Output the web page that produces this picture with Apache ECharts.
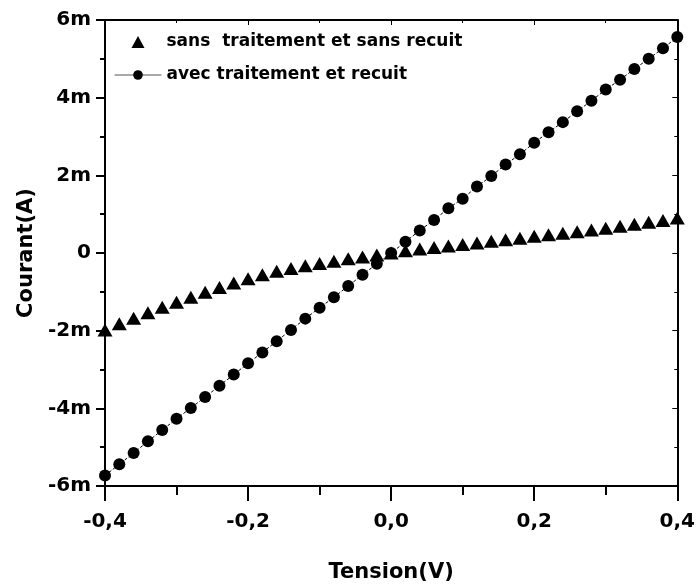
<!DOCTYPE html>
<html>
<head>
<meta charset="utf-8">
<script src="https://cdn.jsdelivr.net/npm/echarts@6/dist/echarts.min.js"></script>
<style>
  html, body { margin: 0; padding: 0; background: #fff; }
  #chart { width: 698px; height: 588px; }
</style>
</head>
<body>
<div id="chart"></div>
<script>
// Applied voltage (V)
const tension = [
  -0.40, -0.38, -0.36, -0.34, -0.32, -0.30, -0.28, -0.26, -0.24, -0.22,
  -0.20, -0.18, -0.16, -0.14, -0.12, -0.10, -0.08, -0.06, -0.04, -0.02,
   0.00,  0.02,  0.04,  0.06,  0.08,  0.10,  0.12,  0.14,  0.16,  0.18,
   0.20,  0.22,  0.24,  0.26,  0.28,  0.30,  0.32,  0.34,  0.36,  0.38,
   0.40
];

// Current (mA) without treatment and without annealing
const courantSans = [
  -1.98, -1.82, -1.68, -1.54, -1.40, -1.27, -1.14, -1.01, -0.89, -0.77,
  -0.66, -0.56, -0.47, -0.40, -0.33, -0.27, -0.21, -0.15, -0.10, -0.05,
   0.00,  0.06,  0.10,  0.14,  0.18,  0.22,  0.26,  0.30,  0.34,  0.38,
   0.43,  0.47,  0.51,  0.55,  0.59,  0.64,  0.69,  0.74,  0.79,  0.84,
   0.90
];

// Current (mA) with treatment and annealing
const courantAvec = [
  -5.73, -5.44, -5.15, -4.85, -4.56, -4.27, -3.99, -3.71, -3.42, -3.13,
  -2.84, -2.56, -2.27, -1.98, -1.69, -1.41, -1.14, -0.85, -0.56, -0.28,
   0.00,  0.29,  0.58,  0.85,  1.15,  1.40,  1.71,  1.98,  2.28,  2.54,
   2.84,  3.11,  3.37,  3.65,  3.92,  4.21,  4.46,  4.74,  5.00,  5.27,
   5.56
];

const serieNames = ['sans  traitement et sans recuit', 'avec traitement et recuit'];
const xTicks = [-0.4, -0.2, 0.0, 0.2, 0.4];
const yTicks = [-6, -4, -2, 0, 2, 4, 6];

const pairs = (ys) => tension.map((v, i) => [v, ys[i]]);

const labelFont = {
  fontFamily: 'DejaVu Sans',
  fontWeight: 'bold',
  color: '#000'
};

// Equilateral-ish triangle as a path so the legend keeps its proportions
const triangleIcon = 'path://M6.5,0L13,12L0,12Z';

const chart = echarts.init(document.getElementById('chart'), null, { renderer: 'canvas' });

const frameAxis = {
  axisLine: { show: true, onZero: false, lineStyle: { color: '#000', width: 2 } },
  splitLine: { show: false }
};

chart.setOption({
  animation: false,
  backgroundColor: '#fff',
  grid: { left: 105, right: 18, top: 20, bottom: 100, containLabel: false },
  legend: {
    orient: 'vertical',
    left: 114,
    top: 33,
    padding: 0,
    itemWidth: 47,
    itemHeight: 12,
    itemGap: 15,
    symbolKeepAspect: true,
    textStyle: Object.assign({ fontSize: 17, lineHeight: 18 }, labelFont),
    data: [
      { name: serieNames[0], icon: triangleIcon, itemStyle: { color: '#000', opacity: 1 } },
      { name: serieNames[1], lineStyle: { type: 'solid', color: '#555', width: 1 } }
    ]
  },
  xAxis: [
    Object.assign({}, frameAxis, {
      type: 'value',
      min: xTicks[0],
      max: xTicks[xTicks.length - 1],
      interval: 0.2,
      position: 'bottom',
      name: 'Tension(V)',
      nameLocation: 'middle',
      nameGap: 76,
      nameTextStyle: Object.assign({ fontSize: 21 }, labelFont),
      axisTick: { show: true, inside: false, length: 15, lineStyle: { color: '#000', width: 2 } },
      minorTick: { show: true, splitNumber: 2, length: 9, lineStyle: { color: '#000', width: 2 } },
      axisLabel: Object.assign({
        fontSize: 20,
        margin: 26,
        formatter: (v) => v.toFixed(1).replace('.', ',')
      }, labelFont)
    }),
    Object.assign({}, frameAxis, {
      type: 'value',
      min: xTicks[0],
      max: xTicks[xTicks.length - 1],
      interval: 0.2,
      position: 'top',
      axisTick: { show: true, inside: true, length: 5, lineStyle: { color: '#000', width: 1 } },
      minorTick: { show: true, splitNumber: 2, length: 3, lineStyle: { color: '#000', width: 1 } },
      axisLabel: { show: false }
    })
  ],
  yAxis: [
    Object.assign({}, frameAxis, {
      type: 'value',
      min: yTicks[0],
      max: yTicks[yTicks.length - 1],
      interval: 2,
      position: 'left',
      name: 'Courant(A)',
      nameLocation: 'middle',
      nameGap: 64,
      nameRotate: 90,
      nameTextStyle: Object.assign({ fontSize: 21 }, labelFont),
      axisTick: { show: true, inside: false, length: 9, lineStyle: { color: '#000', width: 2 } },
      minorTick: { show: true, splitNumber: 2, length: 5, lineStyle: { color: '#000', width: 2 } },
      axisLabel: Object.assign({
        fontSize: 20,
        margin: 14,
        formatter: (v) => (v === 0 ? '0' : v + 'm')
      }, labelFont)
    }),
    Object.assign({}, frameAxis, {
      type: 'value',
      min: yTicks[0],
      max: yTicks[yTicks.length - 1],
      interval: 2,
      position: 'right',
      axisTick: { show: true, inside: true, length: 5, lineStyle: { color: '#000', width: 1 } },
      minorTick: { show: true, splitNumber: 2, length: 3, lineStyle: { color: '#000', width: 1 } },
      axisLabel: { show: false }
    })
  ],
  series: [
    {
      name: serieNames[1],
      type: 'line',
      xAxisIndex: 0,
      yAxisIndex: 0,
      data: pairs(courantAvec),
      symbol: 'circle',
      symbolSize: 12,
      showAllSymbol: true,
      itemStyle: { color: '#000', borderWidth: 0 },
      lineStyle: { color: '#000', width: 1, type: [3, 2] },
      z: 2
    },
    {
      name: serieNames[0],
      type: 'scatter',
      xAxisIndex: 0,
      yAxisIndex: 0,
      data: pairs(courantSans),
      symbol: 'triangle',
      symbolSize: [15, 13],
      itemStyle: { color: '#000', opacity: 1, borderWidth: 0 },
      z: 3
    }
  ]
});
</script>
</body>
</html>
